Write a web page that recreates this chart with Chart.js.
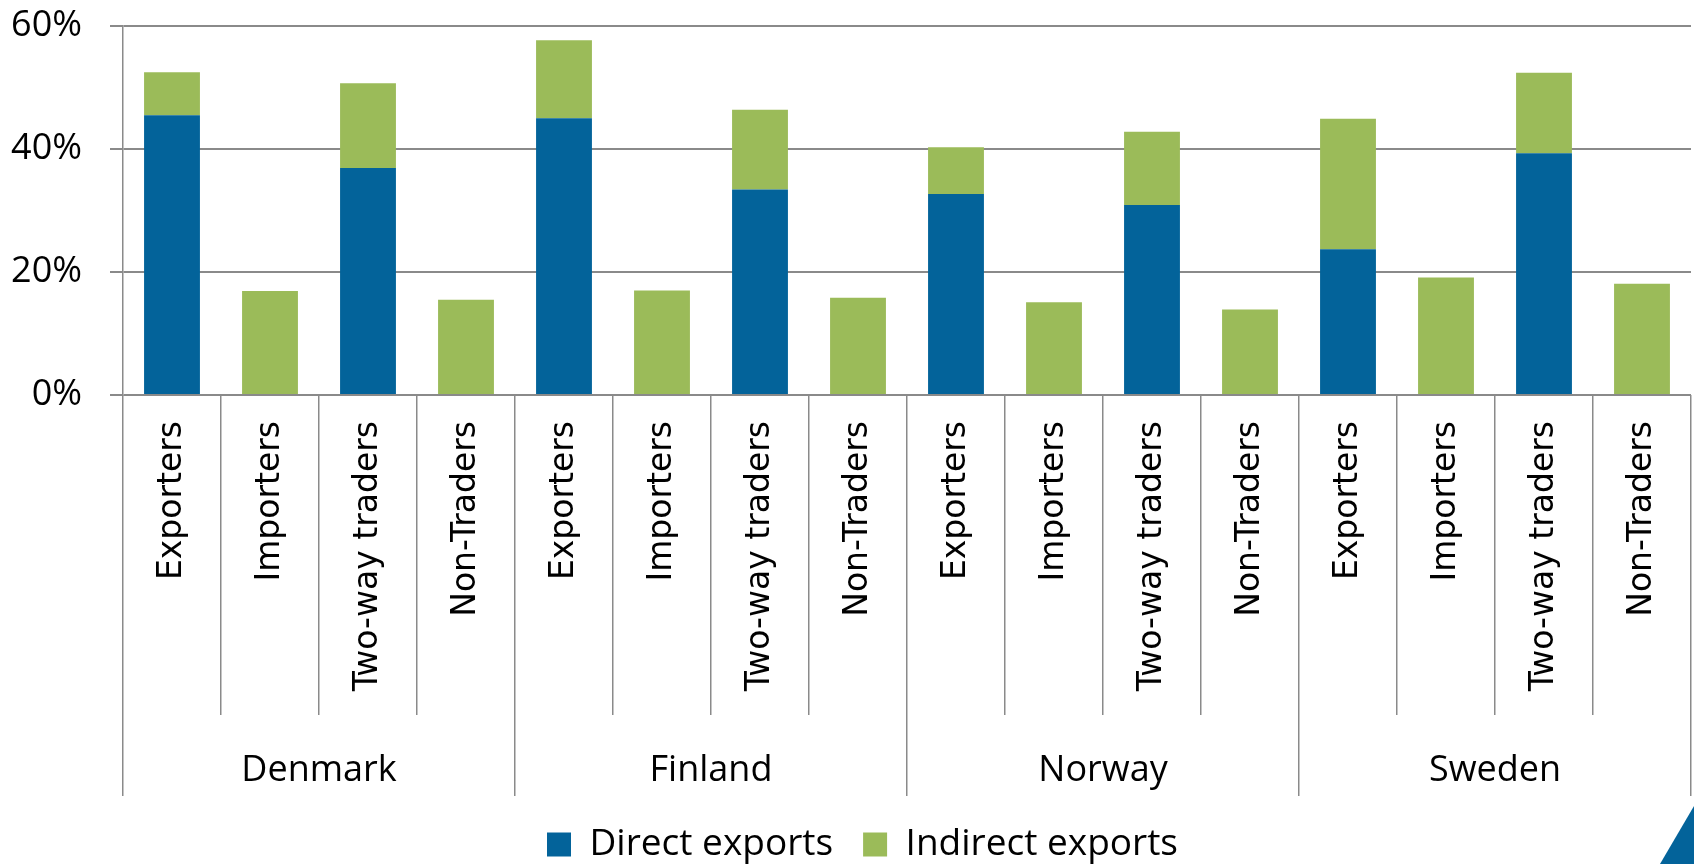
<!DOCTYPE html>
<html>
<head>
<meta charset="utf-8">
<script src="https://cdn.jsdelivr.net/npm/chart.js@4.4.1/dist/chart.umd.min.js"></script>
<style>
  html, body { margin: 0; padding: 0; background: #fff; }
  #wrap { position: relative; width: 1694px; height: 864px; }
  #corner {
    position: absolute; left: 0; top: 0; width: 1694px; height: 864px;
    background: #03639a;
    clip-path: polygon(1660px 864px, 1694px 806px, 1694px 864px);
    pointer-events: none;
  }
</style>
</head>
<body>
<div id="wrap">
  <canvas id="exportsChart" width="1694" height="864"></canvas>
  <div id="corner"></div>
</div>
<script>
// Share of firms with direct / indirect exports, by trader type and country
const countries = ['Denmark', 'Finland', 'Norway', 'Sweden'];
const traderTypes = ['Exporters', 'Importers', 'Two-way traders', 'Non-Traders'];

const directExports = [45.5, 0, 36.9, 0, 45.0, 0, 33.4, 0, 32.7, 0, 30.9, 0, 23.7, 0, 39.3, 0];
const indirectExports = [7.0, 16.9, 13.8, 15.5, 12.7, 17.0, 13.0, 15.8, 7.6, 15.1, 11.9, 13.9, 21.2, 19.1, 13.1, 18.1];

const yTicks = [0, 20, 40, 60];

const labels = [];
countries.forEach(() => traderTypes.forEach(t => labels.push(t)));

const gridGrey = '#8a8a8a';
const calibriLike = { family: '"Open Sans"', size: 36 };

// nudge the legend a little to the right, like the original
const legendShift = {
    id: 'legendShift',
    afterLayout(chart) {
        if (chart.legend) {
            chart.legend.left += 17;
            chart.legend.right += 17;
        }
    }
};

new Chart(document.getElementById('exportsChart'), {
    type: 'bar',
    data: {
        labels: labels,
        datasets: [{
            label: 'Direct exports',
            data: directExports,
            backgroundColor: '#03639a',
            borderWidth: 0,
            categoryPercentage: 1,
            barPercentage: 0.57
        }, {
            label: 'Indirect exports',
            data: indirectExports,
            backgroundColor: '#9bbb59',
            borderWidth: 0,
            categoryPercentage: 1,
            barPercentage: 0.57
        }]
    },
    options: {
        responsive: false,
        devicePixelRatio: 1,
        animation: false,
        layout: { padding: { top: 26, right: 3, bottom: -9, left: 0 } },
        plugins: {
            tooltip: { enabled: false },
            legend: {
                position: 'bottom',
                labels: {
                    boxWidth: 24,
                    boxHeight: 24,
                    padding: 30,
                    color: '#000',
                    font: { family: '"Open Sans"', size: 37 }
                }
            }
        },
        scales: {
            x: {
                stacked: true,
                border: { display: false },
                grid: {
                    offset: true,
                    drawOnChartArea: false,
                    drawTicks: true,
                    tickLength: 320,
                    color: gridGrey,
                    lineWidth: 1.5
                },
                ticks: {
                    autoSkip: false,
                    minRotation: 90,
                    maxRotation: 90,
                    padding: -294,
                    color: '#000',
                    font: { family: '"DejaVu Sans"', size: 33 }
                },
                afterFit: s => { s.height = 320; }
            },
            x2: {
                type: 'category',
                labels: countries,
                position: 'bottom',
                offset: true,
                border: { display: false },
                grid: {
                    offset: true,
                    drawOnChartArea: false,
                    drawTicks: true,
                    tickLength: 81,
                    color: gridGrey,
                    lineWidth: 1.5
                },
                ticks: {
                    padding: -47,
                    maxRotation: 0,
                    color: '#000',
                    font: calibriLike
                },
                afterFit: s => { s.height = 81; }
            },
            y: {
                stacked: true,
                min: 0,
                max: 60,
                border: { display: true, color: gridGrey, width: 1.5 },
                grid: {
                    color: gridGrey,
                    lineWidth: 2,
                    tickLength: 13
                },
                afterBuildTicks: s => { s.ticks = yTicks.map(v => ({ value: v })); },
                ticks: {
                    padding: 28,
                    color: '#000',
                    font: calibriLike,
                    callback: v => v + '%'
                },
                afterFit: s => {
                    s.width = 123;
                    s.paddingTop = 0;
                    s.paddingBottom = 0;
                }
            }
        }
    },
    plugins: [legendShift]
});
</script>
</body>
</html>
